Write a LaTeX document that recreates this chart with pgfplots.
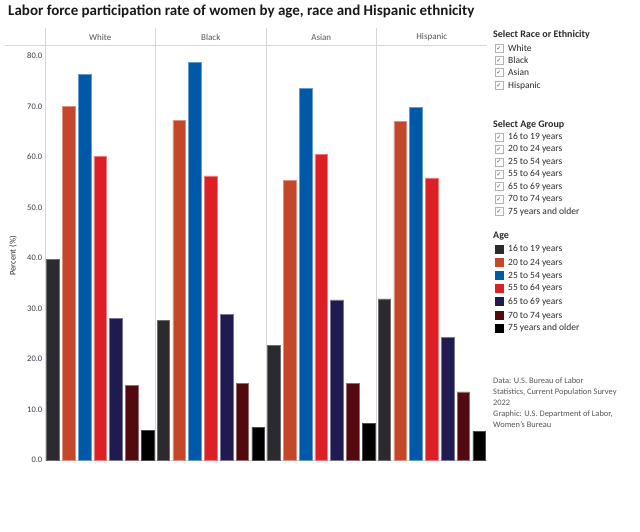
\documentclass[border=0pt]{standalone}
\usepackage{pgfplots}
\pgfplotsset{compat=1.18}
\usepackage{fontspec}
\setmainfont{Carlito}
\newfontfamily\symfont{DejaVu Sans}

\definecolor{cA}{HTML}{2B2A2E}
\definecolor{cB}{HTML}{C4472A}
\definecolor{cC}{HTML}{0058A8}
\definecolor{cD}{HTML}{DD1F26}
\definecolor{cE}{HTML}{1F1A4F}
\definecolor{cF}{HTML}{530A0E}
\definecolor{cG}{HTML}{000000}
\definecolor{gridc}{HTML}{D6D6D6}
\definecolor{tickc}{HTML}{3A3A4A}
\definecolor{headc}{HTML}{555555}
\definecolor{txt}{HTML}{2A2A2A}

\begin{document}
\begin{tikzpicture}[x=1pt,y=1pt]
\useasboundingbox (0,0) rectangle (640,532);

% panel frame
\draw[gridc, line width=0.8pt] (5,487) -- (487,487);
\foreach \xx in {45,155.5,266,376.5}
  \draw[gridc, line width=0.8pt] (\xx,504) -- (\xx,72);
\draw[gridc, line width=0.8pt] (45,72) -- (487,72);

\begin{axis}[
  at={(45pt,72pt)}, anchor=south west,
  scale only axis, width=442pt, height=415pt,
  xmin=-0.5, xmax=27.5, ymin=0, ymax=82.2,
  xtick=\empty,
  ytick={0,10,...,80},
  major tick length=0pt,
  axis line style={draw=none},
  yticklabel style={font=\fontsize{8.5}{9}\selectfont, text=tickc, inner sep=1pt, xshift=-1.5pt},
  /pgf/number format/.cd, fixed, fixed zerofill, precision=1, assume math mode=true,
  /pgfplots/.cd,
  every axis plot/.append style={ybar, bar width=0.8, line width=0.5pt},
  clip=false,
]
% x = 7*group + age index; groups: White, Black, Asian, Hispanic
\addplot[fill=cA, draw=cA!70!white] coordinates {(0,39.7) (7,27.7) (14,22.7) (21,31.9)};
\addplot[fill=cB, draw=cB!60!white] coordinates {(1,70.1) (8,67.2) (15,55.4) (22,67.1)};
\addplot[fill=cC, draw=cC!60!white] coordinates {(2,76.4) (9,78.7) (16,73.6) (23,69.8)};
\addplot[fill=cD, draw=cD!60!white] coordinates {(3,60.2) (10,56.3) (17,60.6) (24,55.9)};
\addplot[fill=cE, draw=cE!60!white] coordinates {(4,28.1) (11,28.9) (18,31.7) (25,24.3)};
\addplot[fill=cF, draw=cF!60!white] coordinates {(5,14.8) (12,15.2) (19,15.2) (26,13.5)};
\addplot[fill=cG, draw=cG!70!white] coordinates {(6,5.8) (13,6.5) (20,7.3) (27,5.7)};
\end{axis}

% title
\node[anchor=west, inner sep=0pt, text=black!90, font=\bfseries\fontsize{15}{17}\selectfont] at (8,520)
  {Labor force participation rate of women by age, race and Hispanic ethnicity};

% column headers
\foreach \xx/\nm in {100.3/White, 210.8/Black, 321.3/Asian, 431.8/Hispanic}
  \node[text=headc, font=\fontsize{9}{10}\selectfont] at (\xx,495) {\nm};

% axis title
\node[rotate=90, text=txt, font=\fontsize{8.5}{9}\selectfont] at (13,276) {Percent (\%)};

% filters
\node[anchor=west, inner sep=0pt, text=txt, font=\bfseries\fontsize{10}{11}\selectfont] at (493,497) {Select Race or Ethnicity};
\foreach \yy/\nm in {483.7/White, 471.3/Black, 459.3/Asian, 446.3/Hispanic}{
  \draw[gray!60, fill=white, line width=0.5pt] (495,\yy-4) rectangle (503,\yy+4);
  \node[inner sep=0pt, text=gray!60!black, font=\symfont\fontsize{6}{6}\selectfont] at (499,\yy) {✓};
  \node[anchor=west, inner sep=0pt, text=txt, font=\fontsize{9.5}{11}\selectfont] at (508,\yy) {\nm};
}
\node[anchor=west, inner sep=0pt, text=txt, font=\bfseries\fontsize{10}{11}\selectfont] at (493,407) {Select Age Group};
\foreach \yy/\nm in {394.7/16 to 19 years, 382.7/20 to 24 years, 370/25 to 54 years, 357.7/55 to 64 years, 345.3/65 to 69 years, 332.7/70 to 74 years, 320.3/75 years and older}{
  \draw[gray!60, fill=white, line width=0.5pt] (495,\yy-4) rectangle (503,\yy+4);
  \node[inner sep=0pt, text=gray!60!black, font=\symfont\fontsize{6}{6}\selectfont] at (499,\yy) {✓};
  \node[anchor=west, inner sep=0pt, text=txt, font=\fontsize{9.5}{11}\selectfont] at (508,\yy) {\nm};
}

% colour key
\node[anchor=west, inner sep=0pt, text=txt, font=\bfseries\fontsize{10}{11}\selectfont] at (493,296.3) {Age};
\foreach \yy/\cc/\nm in {282.7/cA/16 to 19 years, 269.3/cB/20 to 24 years, 256/cC/25 to 54 years, 243.7/cD/55 to 64 years, 230.3/cE/65 to 69 years, 216.3/cF/70 to 74 years, 203.7/cG/75 years and older}{
  \fill[\cc] (495,\yy-4.5) rectangle (504,\yy+4.5);
  \node[anchor=west, inner sep=0pt, text=txt, font=\fontsize{9.5}{11}\selectfont] at (508,\yy) {\nm};
}

% source note
\foreach \yy/\nm in {151/{Data: U.S. Bureau of Labor}, 140/{Statistics, Current Population Survey}, 129/{2022}, 118/{Graphic: U.S. Department of Labor,}, 107/{Women's Bureau}}
  \node[anchor=west, inner sep=0pt, text=headc, font=\fontsize{8.4}{9}\selectfont] at (493,\yy) {\nm};
\end{tikzpicture}
\end{document}
